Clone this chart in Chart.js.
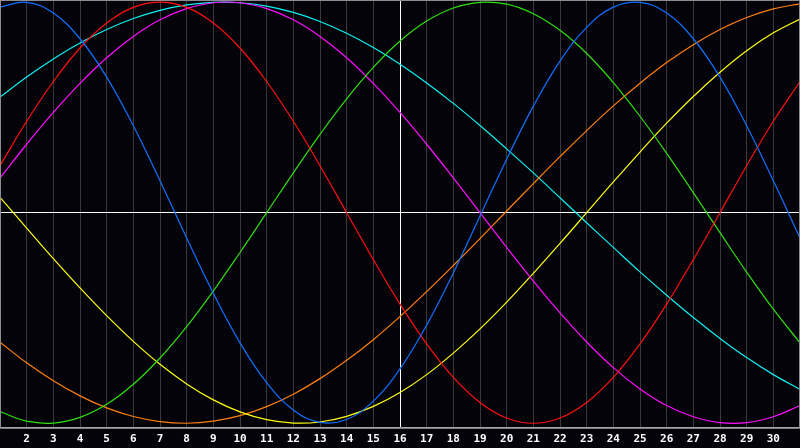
<!DOCTYPE html>
<html>
<head>
<meta charset="utf-8">
<script src="https://cdn.jsdelivr.net/npm/chart.js@4/dist/chart.umd.min.js"></script>
<style>
	html, body { margin: 0; padding: 0; background: #04030a; }
	#wrap { width: 800px; height: 448px; }
</style>
</head>
<body>
<div id="wrap"><canvas id="mycanvas" width="800" height="448"></canvas></div>
<script>
var days = [1,2,3,4,5,6,7,8,9,10,11,12,13,14,15,16,17,18,19,20,21,22,23,24,25,26,27,28,29,30,31];
var today = 16;

// 23 days
var physical = [0.976,0.999,0.948,0.826,0.644,0.413,0.152,-0.120,-0.383,-0.618,-0.807,-0.937,-0.996,-0.982,-0.895,-0.742,-0.534,-0.286,-0.016,0.254,0.506,0.720,0.880,0.976,0.999,0.948,0.826,0.644,0.413,0.152,-0.120];
// 28 days
var emotional = [0.223,0.434,0.623,0.782,0.901,0.975,1.000,0.975,0.901,0.782,0.623,0.434,0.223,0,-0.223,-0.434,-0.623,-0.782,-0.901,-0.975,-1.000,-0.975,-0.901,-0.782,-0.623,-0.434,-0.223,0,0.223,0.434,0.623];
// 33 days
var intellectual = [-0.945,-0.990,-0.999,-0.972,-0.910,-0.815,-0.690,-0.541,-0.372,-0.189,0,0.189,0.372,0.541,0.690,0.815,0.910,0.972,0.999,0.990,0.945,0.866,0.756,0.618,0.458,0.282,0.095,-0.095,-0.282,-0.458,-0.618];
// 38 days
var intuitive = [0.165,0.325,0.476,0.614,0.736,0.837,0.916,0.969,0.997,0.997,0.969,0.916,0.837,0.736,0.614,0.476,0.325,0.165,0,-0.165,-0.325,-0.476,-0.614,-0.736,-0.837,-0.916,-0.969,-0.997,-0.997,-0.969,-0.916];
// 43 days
var aesthetic = [0.073,-0.073,-0.218,-0.357,-0.489,-0.611,-0.720,-0.813,-0.889,-0.946,-0.983,-0.999,-0.994,-0.967,-0.920,-0.854,-0.769,-0.667,-0.552,-0.425,-0.288,-0.146,0,0.146,0.288,0.425,0.552,0.667,0.769,0.854,0.920];
// 48 days
var awareness = [-0.615,-0.713,-0.798,-0.870,-0.927,-0.968,-0.992,-1.000,-0.990,-0.964,-0.921,-0.862,-0.788,-0.701,-0.603,-0.493,-0.375,-0.251,-0.123,0.008,0.138,0.266,0.390,0.507,0.615,0.713,0.798,0.870,0.927,0.968,0.992];
// 53 days
var spiritual = [0.549,0.644,0.730,0.806,0.870,0.922,0.961,0.987,0.999,0.997,0.981,0.951,0.908,0.852,0.784,0.705,0.616,0.519,0.414,0.303,0.189,0.071,-0.048,-0.165,-0.281,-0.392,-0.498,-0.597,-0.688,-0.769,-0.839];

function points(arr){
	var out = [];
	for (var i in days) {
		out.push({x: days[i], y: arr[i]});
	}
	return out;
}

function line(label, color, arr){
	return {
		label: label,
		data: points(arr),
		borderColor: color,
		backgroundColor: color,
		borderWidth: 1.2,
		pointRadius: 0,
		pointHoverRadius: 0,
		fill: false,
		tension: 0.4
	};
}

var frame = {
	id: 'frame',
	beforeDraw: function(chart){
		var c = chart.ctx;
		c.save();
		c.fillStyle = '#04030a';
		c.fillRect(0, 0, chart.width, chart.height);
		c.restore();
	},
	afterDraw: function(chart){
		var c = chart.ctx, a = chart.chartArea;
		c.save();
		c.strokeStyle = '#8c8c8c';
		c.lineWidth = 1;
		c.strokeRect(a.left + 0.5, a.top + 0.5, a.right - a.left - 1, a.bottom - a.top);
		c.restore();
	}
};

var ctx = document.getElementById('mycanvas');
var chart = new Chart(ctx, {
	type: 'line',
	data: {
		datasets: [
			line('Physical', '#1070ff', physical),
			line('Emotional', '#ff1010', emotional),
			line('Intellectual', '#30e010', intellectual),
			line('Intuitive', '#ff10ff', intuitive),
			line('Aesthetic', '#ffff10', aesthetic),
			line('Awareness', '#ff8010', awareness),
			line('Spiritual', '#10f0f0', spiritual)
		]
	},
	options: {
		responsive: false,
		animation: false,
		layout: { autoPadding: false, padding: { left: 0, right: 0, top: 0, bottom: -3 } },
		plugins: {
			legend: { display: false },
			tooltip: { enabled: false }
		},
		scales: {
			x: {
				type: 'linear',
				min: 1,
				max: 31,
				border: { display: true, color: '#a8a8a8', width: 1 },
				grid: {
					drawTicks: false,
					color: function(c){ return c.tick && c.tick.value === today ? '#ffffff' : '#3a3a3a'; }
				},
				ticks: {
					stepSize: 1,
					autoSkip: false,
					maxRotation: 0,
					padding: 0,
					color: '#ffffff',
					font: { family: 'DejaVu Sans Mono', size: 11, weight: 'bold', lineHeight: 2.1 },
					callback: function(v){ return (v === 1 || v === 31) ? '' : String(v); }
				}
			},
			y: {
				min: -1.022,
				max: 1.01,
				border: { display: false },
				grid: {
					drawTicks: false,
					color: function(c){ return c.tick && c.tick.value === 0 ? '#ffffff' : 'rgba(0,0,0,0)'; }
				},
				ticks: { display: false, stepSize: 0.5 }
			}
		}
	},
	plugins: [frame]
});
</script>
</body>
</html>
